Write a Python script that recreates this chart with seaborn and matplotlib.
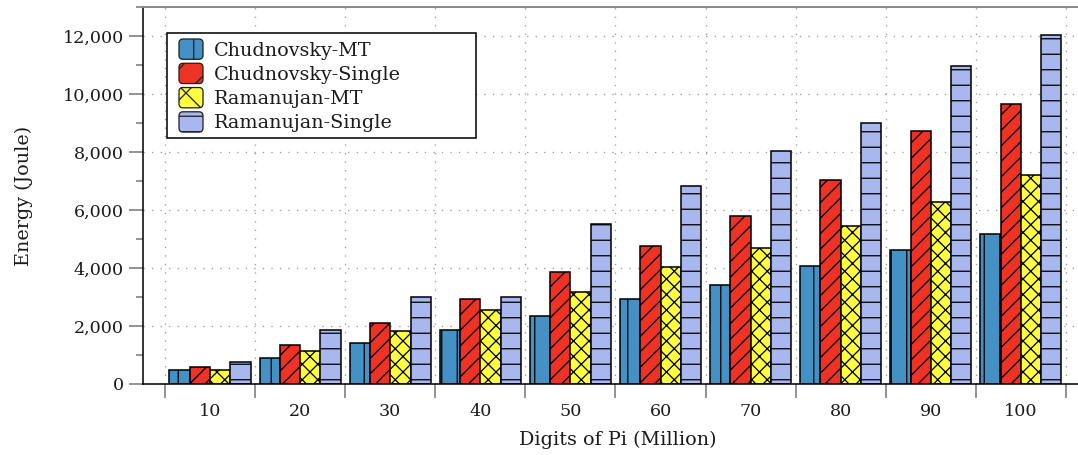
import numpy as np
import pandas as pd
import seaborn as sns
import matplotlib.pyplot as plt
import matplotlib.ticker as mticker
from matplotlib.patches import Patch, FancyBboxPatch
from matplotlib.legend_handler import HandlerPatch

# values
digits = ['10', '20', '30', '40', '50', '60', '70', '80', '90', '100']
chud_mt = [470, 880, 1430, 1850, 2330, 2920, 3420, 4060, 4630, 5180]
chud_single = [580, 1330, 2110, 2930, 3850, 4750, 5800, 7020, 8710, 9670]
raman_mt = [500, 1140, 1830, 2550, 3180, 4050, 4680, 5460, 6290, 7190]
raman_single = [770, 1870, 2990, 2990, 5530, 6840, 8020, 8990, 10960, 12030]

series = ['Chudnovsky-MT', 'Chudnovsky-Single', 'Ramanujan-MT', 'Ramanujan-Single']
colors = ['#4391c5', '#ee3224', '#ffff40', '#a8b8ee']
hatches = ['|', '//', 'xx', '-']

df = pd.DataFrame({
    'digits': digits * 4,
    'energy': chud_mt + chud_single + raman_mt + raman_single,
    'algo': np.repeat(series, len(digits)),
})

DPI = 93
px = 72 / DPI  # points per pixel
FS = 13.5      # tick labels
LFS = 14.8     # axis labels + legend

sns.set_theme(style='white')
plt.rcParams['font.family'] = ['DejaVu Serif']
plt.rcParams['hatch.linewidth'] = 1.0
plt.rcParams['hatch.color'] = 'black'

fig = plt.figure(figsize=(1078 / DPI, 455 / DPI), dpi=DPI)
ax = fig.add_axes([143 / 1078, 1 - 384 / 455, 949 / 1078, 377 / 455])

sns.barplot(data=df, x='digits', y='energy', hue='algo', hue_order=series,
            palette=colors, saturation=1, width=0.9, errorbar=None,
            edgecolor='black', linewidth=1.2, legend=False, ax=ax)

for cont, h in zip(ax.containers, hatches):
    for bar in cont:
        bar.set_hatch(h)

ax.set_xlim(-0.744, 9.789)
ax.set_ylim(0, 13000)

# x: ticks on group borders, labels at group centres
ax.set_xticks(np.arange(-0.5, 10, 1))
ax.set_xticklabels([])
ax.set_xticks(np.arange(10), minor=True)
ax.set_xticklabels(digits, minor=True)
ax.tick_params(axis='x', which='major', bottom=True, length=14 * px, width=1.2,
               color='#777777', direction='out')
ax.tick_params(axis='x', which='minor', bottom=True, length=0, pad=15, labelsize=FS,
               labelcolor='#1a1a1a')

ax.yaxis.set_major_locator(mticker.MultipleLocator(2000))
ax.yaxis.set_minor_locator(mticker.MultipleLocator(1000))
ax.yaxis.set_major_formatter(mticker.FuncFormatter(lambda v, p: f'{int(v):,}'))
ax.tick_params(axis='y', which='major', left=True, length=14 * px, width=1.2,
               color='#777777', direction='out', pad=4, labelsize=FS, labelcolor='#1a1a1a')
ax.tick_params(axis='y', which='minor', left=True, length=7 * px, width=1.2,
               color='#777777', direction='out')

ax.set_axisbelow(True)
ax.grid(True, which='major', axis='both', color='#999999', linewidth=1.0,
        linestyle=(0, (1, 5.6)))

for s in ['left', 'bottom']:
    ax.spines[s].set_color('black')
    ax.spines[s].set_linewidth(1.2)
ax.spines['top'].set_color('#888888')
ax.spines['top'].set_linewidth(1.5)
ax.spines['right'].set_visible(False)

ax.set_xlabel('Digits of Pi (Million)', fontsize=LFS, color='#1a1a1a')
ax.set_ylabel('Energy (Joule)', fontsize=LFS, color='#1a1a1a')
ax.xaxis.set_label_coords(0.5, -0.125)
ax.yaxis.set_label_coords((33 - 143) / 949, 0.5)


def rounded_handle(legend, orig_handle, xdescent, ydescent, width, height, fontsize):
    off = 6 * px
    return FancyBboxPatch((-xdescent + off, -ydescent), width - off, height,
                          boxstyle=f'round,pad=0,rounding_size={4 * px}')


handles = [Patch(facecolor=c, edgecolor='#222222', hatch=h.replace('//', '/').replace('xx', 'x'),
                 linewidth=1.0)
           for c, h in zip(colors, hatches)]
leg = ax.legend(handles, series, loc='upper left', mode='expand',
                bbox_to_anchor=(24 / 949, 0.5, 309 / 949, (384 - 33) / 377 - 0.5),
                borderaxespad=0, fontsize=LFS, fancybox=False, framealpha=1,
                edgecolor='black', handlelength=30 * px / LFS, handleheight=24 * px / LFS,
                handletextpad=11 * px / LFS, labelspacing=3.7 * px / LFS,
                borderpad=6 * px / LFS,
                handler_map={Patch: HandlerPatch(patch_func=rounded_handle)})
leg.get_frame().set_linewidth(1.2)
for t in leg.get_texts():
    t.set_color('#1a1a1a')

fig.savefig('out.png', dpi=DPI)
